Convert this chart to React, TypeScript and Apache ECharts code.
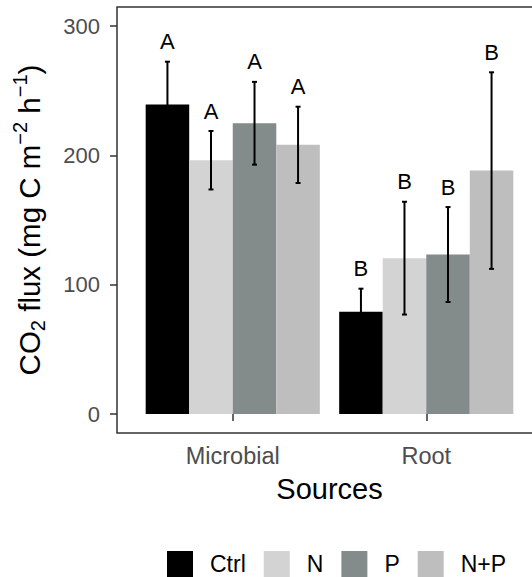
import React, { useEffect, useRef } from "react";
import * as echarts from "echarts";

const categories = ["Microbial", "Root"];
const treatments = ["Ctrl", "N", "P", "N+P"];
const colors = ["#000000", "#D3D3D3", "#838B8B", "#BEBEBE"];

const ctrlMean = [239.4, 79.1];
const ctrlErr = [33.0, 17.8];
const nMean = [196.2, 120.5];
const nErr = [22.6, 43.6];
const pMean = [224.8, 123.3];
const pErr = [32.0, 36.7];
const npMean = [208.1, 188.2];
const npErr = [29.5, 76.0];

const ctrlLetters = ["A", "B"];
const nLetters = ["A", "B"];
const pLetters = ["A", "B"];
const npLetters = ["A", "B"];

const yTicks = [0, 100, 200, 300];

const means = [ctrlMean, nMean, pMean, npMean];
const errs = [ctrlErr, nErr, pErr, npErr];
const letters = [ctrlLetters, nLetters, pLetters, npLetters];

export default function App() {
  const ref = useRef<HTMLDivElement>(null);
  useEffect(() => {
    if (!ref.current) return;
    const chart = echarts.init(ref.current, null, { renderer: "svg" });
    const font = "Liberation Sans, Arial, sans-serif";

    const barSeries = treatments.map((t, ti) => ({
      name: t,
      type: "bar",
      data: means[ti],
      barGap: "0%",
      barCategoryGap: "10%",
      itemStyle: { color: colors[ti] },
      z: 2,
    }));

    const errSeries = treatments.map((t, ti) => ({
      name: t + "_err",
      type: "custom",
      clip: false,
      z: 5,
      data: categories.map((c, ci) => [ci, means[ti][ci], errs[ti][ci]]),
      renderItem: (params: any, api: any) => {
        const ci = api.value(0);
        const m = api.value(1);
        const e = api.value(2);
        const bandW = api.size([1, 0])[0];
        const barW = (bandW * 0.9) / 4;
        const off = (ti - 1.5) * barW;
        const c = api.coord([ci, m]);
        const x = c[0] + off;
        const yTop = api.coord([ci, m + e])[1];
        const yBot = api.coord([ci, m - e])[1];
        const st = { stroke: "#000", lineWidth: 2 };
        return {
          type: "group",
          children: [
            { type: "line", shape: { x1: x, y1: yTop, x2: x, y2: yBot }, style: st },
            { type: "line", shape: { x1: x - 2.5, y1: yTop, x2: x + 2.5, y2: yTop }, style: st },
            { type: "line", shape: { x1: x - 2.5, y1: yBot, x2: x + 2.5, y2: yBot }, style: st },
            {
              type: "text",
              x: x,
              y: yTop - 9,
              style: {
                text: letters[ti][params.dataIndex],
                fontSize: 22,
                fontFamily: font,
                fill: "#000",
                textAlign: "center",
                textVerticalAlign: "bottom",
              },
            },
          ],
        };
      },
    }));

    chart.setOption({
      animation: false,
      grid: { left: 136, right: 9, top: 26, bottom: 163 },
      graphic: [
        {
          type: "polyline",
          shape: { points: [[560, 7], [117, 7], [117, 433], [560, 433]] },
          style: { fill: null, stroke: "#333333", lineWidth: 1.5 },
          z: 1,
        },
      ],
      legend: {
        data: treatments,
        left: 162,
        top: 546,
        itemWidth: 26,
        itemHeight: 26,
        itemGap: 18,
        icon: "rect",
        textStyle: { fontSize: 23, fontFamily: font, color: "#000", padding: [0, 0, 0, 12] },
      },
      xAxis: {
        type: "category",
        data: categories,
        offset: 19,
        axisLine: { show: false },
        axisTick: { show: true, alignWithLabel: true, length: 7, lineStyle: { color: "#333", width: 1.5 } },
        axisLabel: { fontSize: 23.5, fontFamily: font, color: "#4D4D4D", margin: 11 },
        name: "Sources",
        nameLocation: "middle",
        nameGap: 41,
        nameTextStyle: { fontSize: 29, fontFamily: font, color: "#000" },
      },
      yAxis: {
        type: "value",
        min: yTicks[0],
        max: yTicks[yTicks.length - 1],
        interval: 100,
        offset: 19,
        splitLine: { show: false },
        axisLine: { show: false },
        axisTick: { show: true, length: 7, lineStyle: { color: "#333", width: 1.5 } },
        axisLabel: { fontSize: 22, fontFamily: font, color: "#4D4D4D", margin: 17 },
        name: "{n|CO}{sub|2}{n| flux (mg C m}{sup|−2}{n| h}{sup|−1}{n|)}",
        nameLocation: "middle",
        nameRotate: 90,
        nameGap: 69,
        nameTextStyle: {
          fontSize: 29.5,
          fontFamily: font,
          color: "#000",
          rich: {
            n: { fontSize: 29.5, fontFamily: font, color: "#000", lineHeight: 38, verticalAlign: "middle" },
            sub: { fontSize: 20, fontFamily: font, color: "#000", lineHeight: 38, verticalAlign: "bottom" },
            sup: { fontSize: 20, fontFamily: font, color: "#000", lineHeight: 38, verticalAlign: "top" },
          },
        },
      },
      series: [...barSeries, ...errSeries],
    });
    return () => chart.dispose();
  }, []);
  return (
    <div
      ref={ref}
      style={{ position: "fixed", left: 0, top: 0, width: 532, height: 577, background: "#fff" }}
    />
  );
}
